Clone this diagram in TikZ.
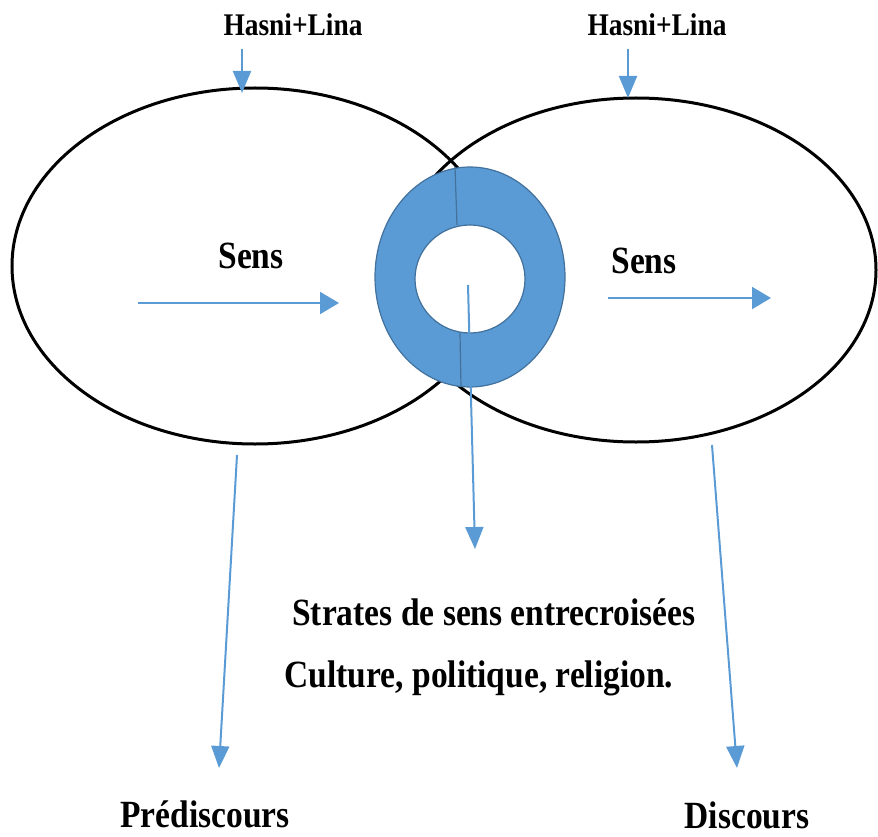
\documentclass[tikz,border=0pt]{standalone}
\usepackage{fontspec}
\setmainfont{Liberation Serif}[FakeStretch=0.87]
\usetikzlibrary{arrows.meta,shapes.geometric}
\definecolor{arrowblue}{HTML}{5B9BD5}
\definecolor{ringblue}{HTML}{5B9BD5}
\definecolor{ringedge}{HTML}{41719C}
\begin{document}
\begin{tikzpicture}[x=1pt,y=-1pt,
  bigell/.style={draw=black, line width=3pt, ellipse, inner sep=0pt, outer sep=0pt},
  varrow/.style={draw=arrowblue, line width=2pt, -{Triangle[length=22pt,width=18pt]}},
  harrow/.style={draw=arrowblue, line width=2pt, -{Triangle[length=19pt,width=22pt]}},
  lbl/.style={anchor=base, inner sep=0pt},
  fsmall/.style={font=\bfseries\fontsize{31.5}{33}\selectfont},
  fbig/.style={font=\bfseries\fontsize{38.5}{41}\selectfont}]
\path[use as bounding box] (0,0) rectangle (878,837);

% two big ellipses
\node[bigell, minimum width=486pt, minimum height=356pt] (L) at (255,266) {};
\node[bigell, minimum width=480pt, minimum height=344pt] (R) at (636,270) {};

% ring
\fill[white] (470,279) ellipse [x radius=55, y radius=54];
\path[fill=ringblue, draw=ringedge, line width=1.2pt, even odd rule]
  (470,277) ellipse [x radius=95, y radius=110]
  (470,279) ellipse [x radius=55, y radius=54];
\coordinate (rt1) at (455,167);
\coordinate (rt2) at (457,225);
\coordinate (rb1) at (460,333);
\coordinate (rb2) at (461,387);
\draw[ringedge, line width=1.2pt] (rt1) -- (rt2);
\draw[ringedge, line width=1.2pt] (rb1) -- (rb2);

% top labels and arrows
\node[lbl, fsmall] (h1) at (293,36) {Hasni+Lina};
\node[lbl, fsmall] (h2) at (657,36) {Hasni+Lina};
\coordinate (t1s) at (242,49);
\coordinate (t1e) at (242,93);
\coordinate (t2s) at (628,49);
\coordinate (t2e) at (628,98);
\draw[varrow] (t1s) -- (t1e);
\draw[varrow] (t2s) -- (t2e);

% Sens labels and arrows
\node[lbl, fbig] (s1) at (251,268) {Sens};
\node[lbl, fbig] (s2) at (644,273) {Sens};
\coordinate (a1s) at (138,303);
\coordinate (a1e) at (339,303);
\coordinate (a2s) at (608,298);
\coordinate (a2e) at (771,298);
\draw[harrow] (a1s) -- (a1e);
\draw[harrow] (a2s) -- (a2e);

% centre arrow
\coordinate (cs) at (468,285);
\coordinate (ce) at (475,549);
\draw[varrow] (cs) -- (ce);

% lower arrows
\coordinate (ls) at (237,455);
\coordinate (le) at (219,768);
\coordinate (rs) at (712,445);
\coordinate (re) at (737,768);
\draw[varrow] (ls) -- (le);
\draw[varrow] (rs) -- (re);

% texts
\node[lbl, fbig] (st) at (494,625) {Strates de sens entrecroisées};
\node[lbl, fbig] (cu) at (479,687) {Culture, politique, religion.};
\node[lbl, fbig] (pd) at (205,827) {Prédiscours};
\node[lbl, fbig] (dc) at (747,828) {Discours};
\end{tikzpicture}
\end{document}
